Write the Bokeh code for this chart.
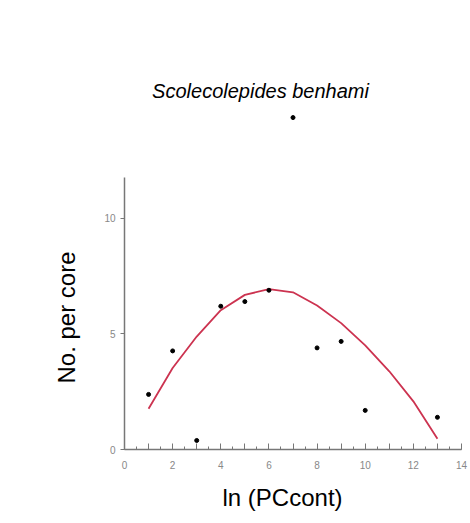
from bokeh.plotting import figure
from bokeh.models import FixedTicker, Range1d, Label, Title
from bokeh.embed import file_html
from bokeh.resources import INLINE

# observed data
obs_x = [1, 2, 3, 4, 5, 6, 7, 8, 9, 10, 13]
obs_y = [2.38, 4.26, 0.39, 6.19, 6.39, 6.88, 14.34, 4.39, 4.67, 1.69, 1.39]

# fitted curve
fit_x = [1, 2, 3, 4, 5, 6, 7, 8, 9, 10, 11, 12, 13]
fit_y = [1.76, 3.52, 4.88, 6.02, 6.68, 6.93, 6.79, 6.22, 5.46, 4.50, 3.38, 2.08, 0.46]

x_ticks = list(range(0, 15))
x_minor = [i * 0.5 for i in range(0, 29)]
y_ticks = [0, 5, 10]

title_text = "Scolecolepides benhami"
x_label = "ln (PCcont)"
y_label = "No. per core"

p = figure(width=470, height=523, output_backend="svg", toolbar_location=None,
           x_range=Range1d(0, 14), y_range=Range1d(0, 17.67),
           min_border_left=124, min_border_right=9, min_border_top=40,
           min_border_bottom=74)
p.outline_line_color = None
p.background_fill_color = "white"
p.border_fill_color = "white"
p.xgrid.visible = False
p.ygrid.visible = False

p.line(fit_x, fit_y, line_color="#cc3350", line_width=1.8)
p.scatter(obs_x, obs_y, size=4, color="black")

# x axis
xa = p.xaxis[0]
xa.ticker = FixedTicker(ticks=x_ticks, minor_ticks=x_minor)
xa.major_label_overrides = {i: ("" if i % 2 else str(i)) for i in x_ticks}
xa.axis_line_color = "#777777"
xa.axis_line_width = 1.5
xa.major_tick_line_color = "#777777"
xa.minor_tick_line_color = "#777777"
xa.major_tick_in = 6
xa.major_tick_out = 0
xa.minor_tick_in = 3
xa.minor_tick_out = 0
xa.major_label_text_font = "Liberation Sans"
xa.major_label_text_font_size = "10px"
xa.major_label_text_color = "#888888"
xa.major_label_standoff = 11

# y axis
ya = p.yaxis[0]
ya.ticker = FixedTicker(ticks=y_ticks, minor_ticks=[])
ya.bounds = (0, 11.75)
ya.axis_line_color = "#777777"
ya.axis_line_width = 1.5
ya.major_tick_line_color = "#777777"
ya.major_tick_in = 0
ya.major_tick_out = 4
ya.minor_tick_line_color = None
ya.major_label_text_font = "Liberation Sans"
ya.major_label_text_font_size = "10px"
ya.major_label_text_color = "#888888"
ya.major_label_standoff = 5

title = Label(x=5.65, y=15.5, text=title_text, text_align="center",
              text_baseline="middle", text_font="Liberation Sans",
              text_font_size="20px", text_font_style="italic", text_color="black")
p.add_layout(title)

xl = Title(text=x_label, align="left", offset=98, vertical_align="bottom",
           standoff=20, text_font="Liberation Sans", text_font_size="24px",
           text_font_style="normal", text_color="black")
p.add_layout(xl, "below")

yl = Title(text=y_label, align="left", offset=66, vertical_align="middle",
           standoff=42, text_font="Liberation Sans", text_font_size="24px",
           text_font_style="normal", text_color="black")
p.add_layout(yl, "left")

open("out.html", "w").write(file_html(p, INLINE))
